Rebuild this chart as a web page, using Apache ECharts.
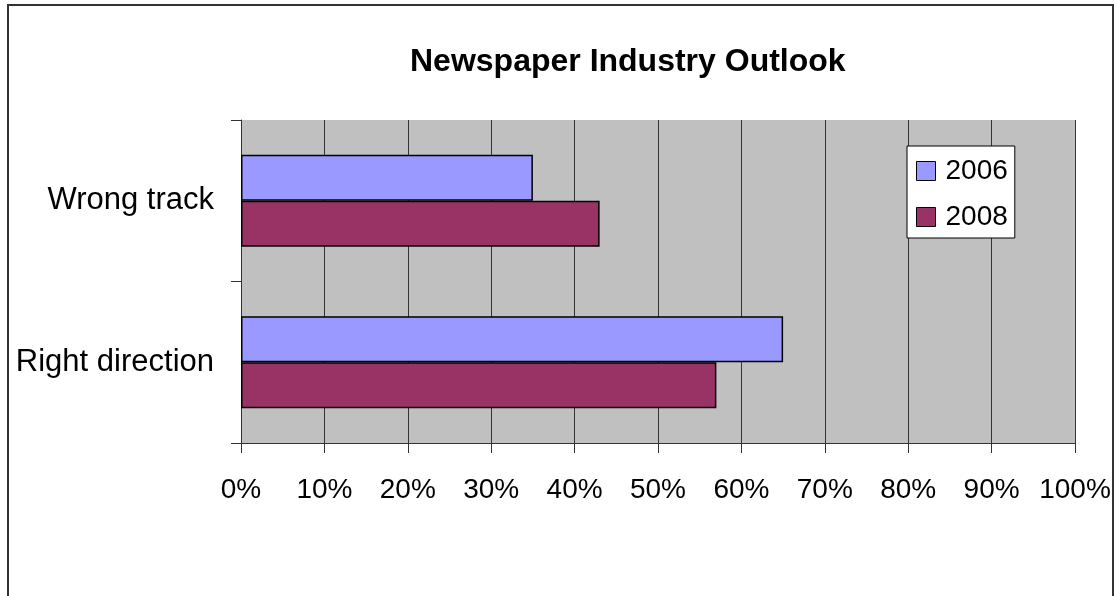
<!DOCTYPE html>
<html>
<head>
<meta charset="utf-8">
<script src="https://cdn.jsdelivr.net/npm/echarts@6/dist/echarts.min.js"></script>
<style>
html,body{margin:0;padding:0;background:#fff;}
#wrap{position:relative;width:1117px;height:596px;overflow:hidden;}
#chart{width:1117px;height:596px;}
#frame{position:absolute;left:7px;top:4px;width:1103px;height:700px;border:2px solid #333;pointer-events:none;}
</style>
</head>
<body>
<div id="wrap">
	<div id="chart"></div>
	<div id="frame"></div>
</div>
<script>
// bottom to top on the category axis
var categories = ['Right direction', 'Wrong track'];
var values2006 = [65, 35];
var values2008 = [57, 43];
var seriesNames = ['2006', '2008'];
var xTicks = [0, 100, 10];   // min, max, interval

var chart = echarts.init(document.getElementById('chart'));
var font = 'Liberation Sans, Arial, sans-serif';
chart.setOption({
	backgroundColor: '#fff',
	animation: false,
	title: {
		text: 'Newspaper Industry Outlook',
		left: 405,
		top: 41,
		textStyle: {
			fontFamily: font,
			fontSize: 32,
			fontWeight: 'bold',
			color: '#000'
		}
	},
	legend: {
		data: seriesNames,
		orient: 'vertical',
		left: 907,
		top: 146,
		padding: [11, 7, 7, 9],
		itemGap: 18,
		itemWidth: 19,
		itemHeight: 19,
		icon: 'rect',
		backgroundColor: '#fff',
		borderColor: '#000',
		borderWidth: 1,
		itemStyle: {
			borderColor: '#000',
			borderWidth: 1
		},
		textStyle: {
			fontFamily: font,
			fontSize: 28,
			color: '#000',
			padding: [0, 0, 0, 5]
		}
	},
	grid: {
		left: 241,
		right: 42,
		top: 120,
		bottom: 153,
		show: true,
		backgroundColor: '#C0C0C0',
		borderWidth: 0
	},
	xAxis: {
		type: 'value',
		min: xTicks[0],
		max: xTicks[1],
		interval: xTicks[2],
		axisLine: {show: true, lineStyle: {color: '#333', width: 1}},
		axisTick: {show: true, length: 10, lineStyle: {color: '#333'}},
		axisLabel: {
			formatter: '{value}%',
			margin: 33,
			fontFamily: font,
			fontSize: 28,
			color: '#000'
		},
		splitLine: {show: true, lineStyle: {color: '#333', width: 1}}
	},
	yAxis: {
		type: 'category',
		data: categories,
		axisLine: {show: true, lineStyle: {color: '#333', width: 1}},
		axisTick: {show: true, length: 10, lineStyle: {color: '#333'}},
		axisLabel: {
			margin: 27,
			fontFamily: font,
			fontSize: 31,
			color: '#000'
		}
	},
	series: [
		{
			name: '2006',
			type: 'bar',
			data: values2006,
			barGap: '0%',
			barCategoryGap: '43%',
			itemStyle: {color: '#9999FF', borderColor: '#000', borderWidth: 1.5}
		},
		{
			name: '2008',
			type: 'bar',
			data: values2008,
			barGap: '0%',
			barCategoryGap: '43%',
			itemStyle: {color: '#993366', borderColor: '#000', borderWidth: 1.5}
		}
	]
});
</script>
</body>
</html>
